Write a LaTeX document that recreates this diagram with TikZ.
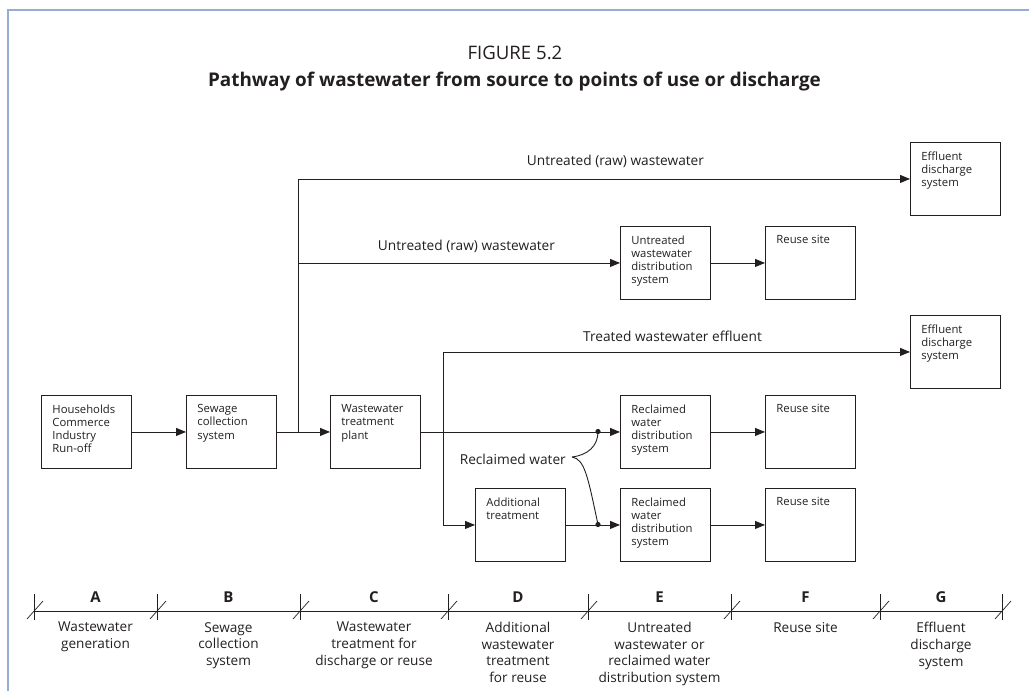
\documentclass[tikz,border=0pt]{standalone}
\usepackage{fontspec}
\setmainfont{Open Sans}
\usepackage{xcolor}
\usetikzlibrary{arrows.meta}
\definecolor{frameblue}{RGB}{150,172,212}
\definecolor{ink}{RGB}{35,31,32}
\newcommand{\boxtxt}[1]{\parbox[t][55pt][t]{68pt}{\raggedright #1}}

\begin{document}
\begin{tikzpicture}[x=1pt, y=-1pt,
            box/.style={rectangle, draw=ink, line width=0.9pt, anchor=north west,
            minimum width=90pt, minimum height=73pt, inner xsep=11pt, inner ysep=9pt,
            font=\fontsize{11.3}{13.3}\selectfont, text=ink},
            flow/.style={draw=ink, line width=0.9pt, -{Triangle[length=10pt, width=8pt]}},
            plain/.style={draw=ink, line width=0.9pt},
            flowlabel/.style={anchor=base, inner sep=0pt, text=ink,
            font=\fontsize{13.7}{16}\selectfont},
            axletter/.style={anchor=base, inner sep=0pt, text=ink,
            font=\fontsize{15}{18}\selectfont\bfseries},
            axdesc/.style={anchor=north, inner sep=0pt, align=center, text=ink,
            font=\fontsize{13.6}{16.7}\selectfont},
        ]
            \useasboundingbox (0,0) rectangle (1029,691);

            %% Rahmen
            \draw[frameblue, line width=1.2pt] (8,691) -- (8,10) -- (1029,10);

            %% Titel
            \node[anchor=base, text=ink, font=\fontsize{18.6}{22}\selectfont] (fig) at (515,59) {FIGURE 5.2};
            \node[anchor=base, text=ink, font=\fontsize{18.9}{22}\selectfont\bfseries] (title) at (514.5,86)
                {Pathway of wastewater from source to points of use or discharge};

            %% Kaesten
            \node[box] (src)        at (41,395)  {\boxtxt{Households\\Commerce\\Industry\\Run-off}};
            \node[box] (sewer)      at (186,395) {\boxtxt{Sewage\\collection\\system}};
            \node[box] (plant)      at (330,395) {\boxtxt{Wastewater\\treatment\\plant}};
            \node[box] (addtr)      at (475,488) {\boxtxt{Additional\\treatment}};
            \node[box] (rawdist)    at (620,226) {\boxtxt{Untreated\\wastewater\\distribution\\system}};
            \node[box] (reuseraw)   at (765,226) {\boxtxt{Reuse site}};
            \node[box] (effraw)     at (910,142) {\boxtxt{Effluent\\discharge\\system}};
            \node[box] (efftr)      at (910,315) {\boxtxt{Effluent\\discharge\\system}};
            \node[box] (recdist)    at (620,395) {\boxtxt{Reclaimed\\water\\distribution\\system}};
            \node[box] (reuserec)   at (765,395) {\boxtxt{Reuse site}};
            \node[box] (recdistadd) at (620,488) {\boxtxt{Reclaimed\\water\\distribution\\system}};
            \node[box] (reuseadd)   at (765,488) {\boxtxt{Reuse site}};

            %% Verzweigungen
            \coordinate (jsewer) at (298,431.5);
            \coordinate (jplant) at (443,431.5);
            \coordinate (dotrec) at (598,431.5);
            \coordinate (dotadd) at (598,524.5);
            \coordinate (rwtip)  at (572,457);

            %% Pfeile
            \draw[flow] (src) -- (sewer);
            \draw[flow] (sewer) -- (plant);
            \draw[flow] (jsewer) |- (effraw.west);
            \draw[flow] (jsewer |- rawdist.west) -- (rawdist.west);
            \draw[flow] (rawdist) -- (reuseraw);
            \draw[flow] (plant) -- (recdist);
            \draw[flow] (recdist) -- (reuserec);
            \draw[flow] (jplant |- efftr.west) -- (efftr.west);
            \draw[flow] (jplant |- efftr.west) |- (addtr.west);
            \draw[flow] (addtr) -- (recdistadd);
            \draw[flow] (recdistadd) -- (reuseadd);

            %% Klammer
            \draw[plain] (rwtip) .. controls (588,455) and (598,446) .. (dotrec);
            \draw[plain] (rwtip) .. controls (585,459) and (588,478) .. (dotadd);
            \fill[ink] (dotrec) circle (2.6);
            \fill[ink] (dotadd) circle (2.6);

            %% Beschriftungen
            \node[flowlabel] (lraw)   at (615.5,165) {Untreated (raw) wastewater};
            \node[flowlabel] (lrawb)  at (466.5,250) {Untreated (raw) wastewater};
            \node[flowlabel] (ltr)    at (672.5,341) {Treated wastewater effluent};
            \node[flowlabel, anchor=base east] (lrec) at (566,464) {Reclaimed water};

            %% Achse
            \draw[plain] (34,611) coordinate (axl) -- (1002,611) coordinate (axr);
            \foreach \x in {34,157,300,448,588,731,880,1002} {
                \draw[plain, line width=0.7pt] (\x,594) -- (\x,620);
                \draw[plain, line width=0.7pt] (\x-7,619) -- (\x+9,601);
            }
            \foreach \xa/\xb/\lt/\desc in {
                    34/157/A/{Wastewater\\generation},
                    157/300/B/{Sewage\\collection\\system},
                    300/448/C/{Wastewater\\treatment for\\discharge or reuse},
                    448/588/D/{Additional\\wastewater\\treatment\\for reuse},
                    588/731/E/{Untreated\\wastewater or\\reclaimed water\\distribution system},
                    731/880/F/{Reuse site},
                    880/1002/G/{Effluent\\discharge\\system}} {
                \node[axletter] (let\lt) at ({(\xa+\xb)/2},602) {\lt};
                \node[axdesc] (desc\lt) at ({(\xa+\xb)/2},622) {\desc};
            }

        \end{tikzpicture}
\end{document}
